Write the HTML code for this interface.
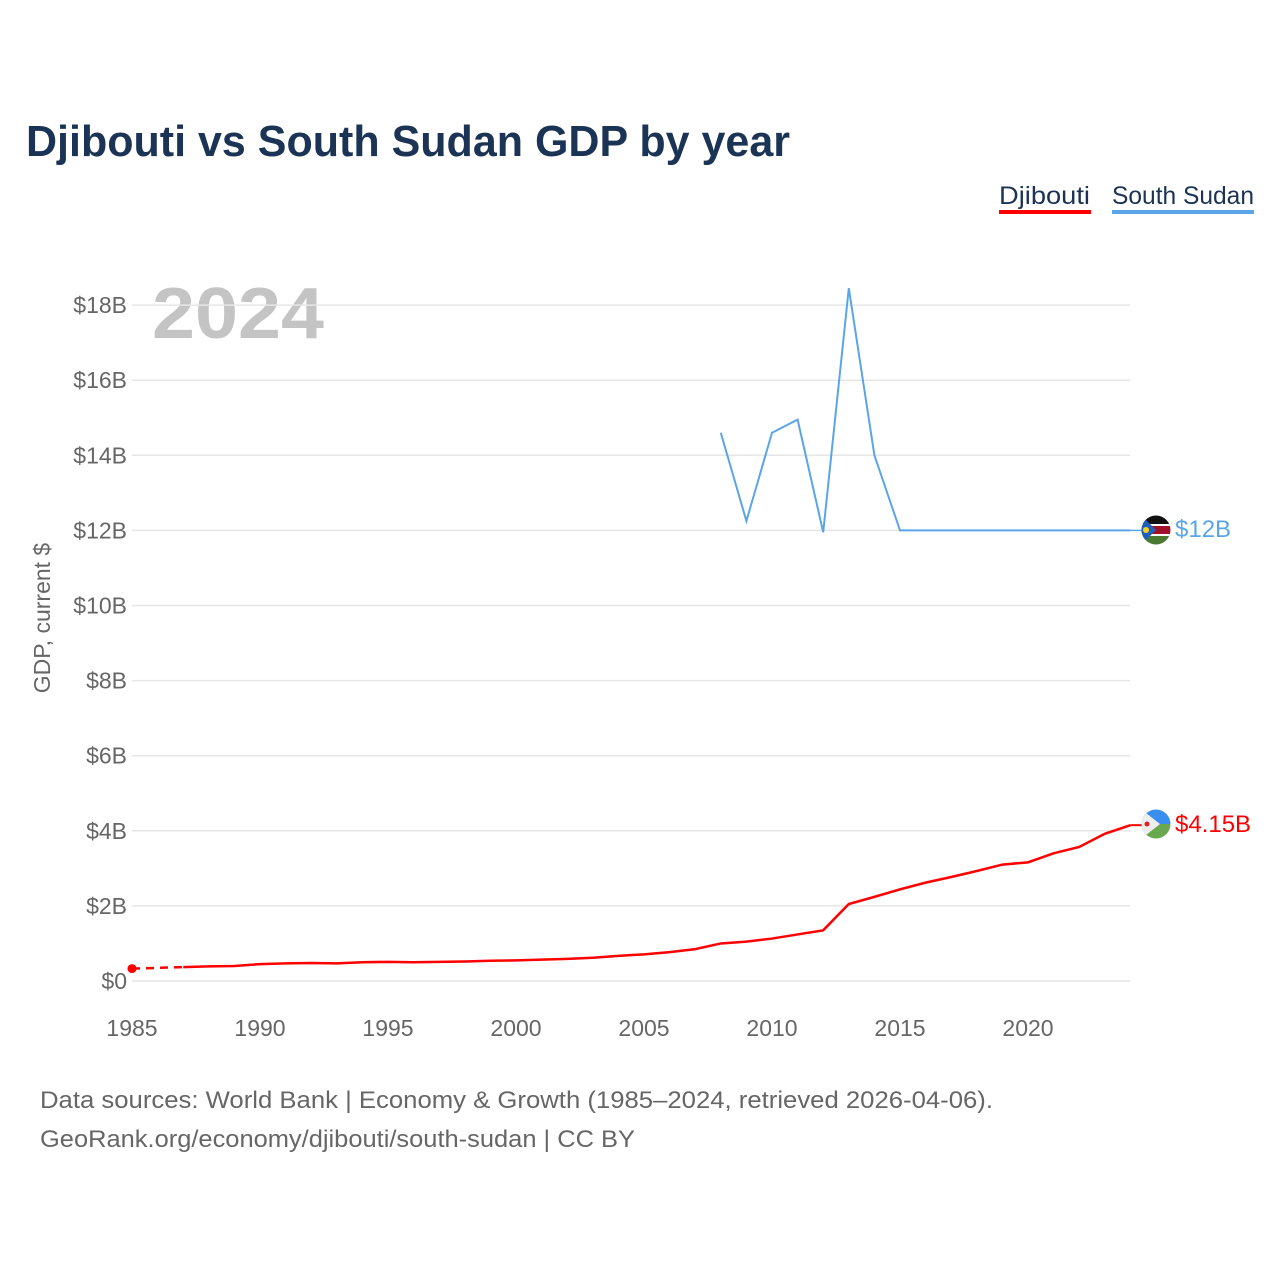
<!DOCTYPE html>
<html><head><meta charset="utf-8"><style>
body{margin:0;background:#fff;font-family:"Liberation Sans",sans-serif}
svg text{font-family:"Liberation Sans",sans-serif}
</style></head><body>
<svg id="chart" width="1280" height="1280" viewBox="0 0 1280 1280">
<text x="26" y="156" font-size="44" font-weight="bold" fill="#1b3354" textLength="764" lengthAdjust="spacingAndGlyphs">Djibouti vs South Sudan GDP by year</text>
<g><text x="999" y="204" font-size="25" fill="#1b3354" textLength="91" lengthAdjust="spacingAndGlyphs">Djibouti</text><rect x="999" y="210" width="92" height="4" fill="#ff0000"/></g>
<g><text x="1112" y="204" font-size="25" fill="#1b3354" textLength="142" lengthAdjust="spacingAndGlyphs">South Sudan</text><rect x="1112" y="210" width="142" height="4" fill="#5aa5e8"/></g>
<text x="152" y="338" font-size="72" font-weight="bold" fill="#c4c4c4" textLength="172" lengthAdjust="spacingAndGlyphs">2024</text>
<text transform="translate(50,618) rotate(-90)" text-anchor="middle" font-size="23" fill="#666">GDP, current $</text>
<g id="grid"></g><g id="xt"></g><g id="lines"></g>
<g>
<clipPath id="c1"><circle cx="1156" cy="530" r="14.5"/></clipPath>
<g clip-path="url(#c1)"><rect x="1140" y="515" width="32" height="10" fill="#111"/><rect x="1140" y="525" width="32" height="10" fill="#a0102a"/><rect x="1140" y="524" width="32" height="2" fill="#fff"/><rect x="1140" y="534" width="32" height="2" fill="#fff"/><rect x="1140" y="536" width="32" height="10" fill="#4a7a32"/><polygon points="1141,515 1156,530 1141,545" fill="#1f5fb8"/><circle cx="1146" cy="530" r="3" fill="#f5d21a"/></g></g>
<text x="1175" y="537" font-size="24" fill="#5aa5e8">$12B</text>
<g>
<clipPath id="c2"><circle cx="1156" cy="824" r="14.5"/></clipPath>
<g clip-path="url(#c2)"><rect x="1140" y="809" width="32" height="15" fill="#3a8ef0"/><rect x="1140" y="824" width="32" height="16" fill="#6aa84f"/><polygon points="1141,809 1160,824 1141,839" fill="#eee"/><circle cx="1147" cy="824" r="2.5" fill="#d22"/></g></g>
<text x="1175" y="832" font-size="24" fill="#ff0000">$4.15B</text>
<text x="40" y="1108" font-size="24" fill="#666" textLength="953" lengthAdjust="spacingAndGlyphs">Data sources: World Bank | Economy &amp; Growth (1985–2024, retrieved 2026-04-06).</text>
<text x="40" y="1147" font-size="24" fill="#666" textLength="595" lengthAdjust="spacingAndGlyphs">GeoRank.org/economy/djibouti/south-sudan | CC BY</text>
</svg>
<script>
const yTicks=[0,2,4,6,8,10,12,14,16,18];
const xTicks=[1985,1990,1995,2000,2005,2010,2015,2020];
const djYears=[1985,1987,1988,1989,1990,1991,1992,1993,1994,1995,1996,1997,1998,1999,2000,2001,2002,2003,2004,2005,2006,2007,2008,2009,2010,2011,2012,2013,2014,2015,2016,2017,2018,2019,2020,2021,2022,2023,2024];
const djVals=[0.33,0.37,0.39,0.40,0.45,0.47,0.48,0.47,0.50,0.51,0.50,0.51,0.52,0.54,0.55,0.57,0.59,0.62,0.67,0.71,0.77,0.85,1.0,1.05,1.13,1.24,1.35,2.05,2.24,2.44,2.62,2.77,2.93,3.1,3.16,3.4,3.57,3.92,4.15];
const ssYears=[2008,2009,2010,2011,2012,2013,2014,2015,2016,2017,2018,2019,2020,2021,2022,2023,2024];
const ssVals=[14.6,12.25,14.6,14.95,11.95,18.45,14.0,12.0,12.0,12.0,12.0,12.0,12.0,12.0,12.0,12.0,12.0];
const X=y=>132+(y-1985)*25.6, Y=v=>981-v*37.55;
const NS="http://www.w3.org/2000/svg";
function mk(p,t,a){const e=document.createElementNS(NS,t);for(const k in a)e.setAttribute(k,a[k]);p.appendChild(e);return e;}
const g=document.getElementById('grid');
yTicks.forEach(v=>{
const l=mk(g,'line',{x1:132,x2:1130,y1:Y(v),y2:Y(v),stroke:'#e6e6e6','stroke-width':1.5});


const t=mk(g,'text',{x:127,y:Y(v)+8,'text-anchor':'end','font-size':23,fill:'#666'});t.textContent='$'+v+(v?'B':'');


});
const xt=document.getElementById('xt');
xTicks.forEach(y=>{const t=mk(xt,'text',{x:X(y),y:1036,'text-anchor':'middle','font-size':23,fill:'#666'});t.textContent=y;

});
const L=document.getElementById('lines');
const dash=mk(L,'path',{d:`M${X(djYears[0])},${Y(djVals[0])}L${X(djYears[1])},${Y(djVals[1])}`,stroke:'#ff0000','stroke-width':2.5,fill:'none','stroke-dasharray':'8,6'});


const dot=mk(L,'circle',{cx:X(djYears[0]),cy:Y(djVals[0]),r:4.5,fill:'#ff0000'});


const dj=mk(L,'path',{d:djYears.slice(1).map((y,i)=>(i?'L':'M')+X(y)+','+Y(djVals[i+1])).join(''),stroke:'#ff0000','stroke-width':2.5,fill:'none'});


const ss=mk(L,'path',{d:ssYears.map((y,i)=>(i?'L':'M')+X(y)+','+Y(ssVals[i])).join(''),stroke:'#5aa5e8','stroke-width':2,fill:'none'});


const c1=mk(L,'line',{x1:X(2024),x2:1142,y1:Y(djVals[djVals.length-1]),y2:Y(djVals[djVals.length-1]),stroke:'#ff0000','stroke-width':2});


const c2=mk(L,'line',{x1:X(2024),x2:1142,y1:Y(ssVals[ssVals.length-1]),y2:Y(ssVals[ssVals.length-1]),stroke:'#5aa5e8','stroke-width':1.5});


</script>
</body></html>
